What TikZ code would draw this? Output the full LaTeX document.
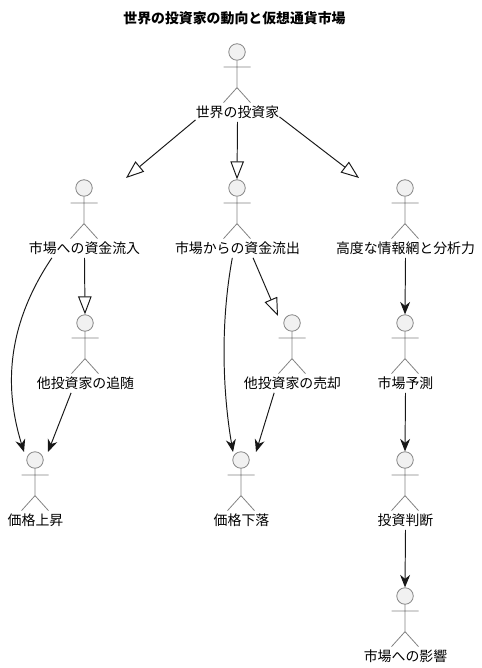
\documentclass[tikz,border=0pt]{standalone}
\usepackage{fontspec}
\setmainfont{Noto Sans CJK JP}
\usepackage{xcolor}
\usetikzlibrary{arrows.meta}
\definecolor{headgray}{RGB}{241,241,241}
\definecolor{stickgray}{RGB}{130,130,130}
\definecolor{linedark}{RGB}{24,24,24}

\newcommand{\stickman}[4]{%
  \node[headst] (#1head) at (#2,#3) {};
  \draw[stickst] (#1head.south) -- ++(0,27) ++(-13.5,15) -- ++(13.5,-15) -- ++(13.5,15)
    (#1head) ++(-13.5,15) -- ++(27,0);
  \path (#1head) ++(0.5,60.5) node[lbl] (#1) {#4};
}

\begin{document}
\begin{tikzpicture}[
    x=0.02cm, y=-0.02cm,
    headst/.style={circle, draw=stickgray, fill=headgray, line width=0.45pt, inner sep=0pt, minimum size=0.33cm},
    stickst/.style={draw=stickgray, line width=0.45pt},
    lbl/.style={inner sep=0pt, minimum height=0.36cm, font=\fontsize{7.9}{9}\selectfont},
    flow/.style={draw=linedark, line width=0.55pt, -{Stealth[length=0.25cm, width=0.2cm, inset=0.08cm]}},
    gen/.style={draw=linedark, line width=0.55pt, -{Triangle[open, length=0.36cm, width=0.27cm]}}
]
\useasboundingbox (0,0) rectangle (481,668);

\node[font=\fontsize{7.9}{9}\selectfont\bfseries] (title) at (234.5,18) {世界の投資家の動向と仮想通貨市場};

\stickman{world}{237}{52}{世界の投資家}
\stickman{inflow}{84}{188}{市場への資金流入}
\stickman{outflow}{237}{188}{市場からの資金流出}
\stickman{info}{405}{188}{高度な情報網と分析力}
\stickman{follow}{85}{323}{他投資家の追随}
\stickman{sell}{292}{323}{他投資家の売却}
\stickman{predict}{405}{323}{市場予測}
\stickman{rise}{35}{460}{価格上昇}
\stickman{fall}{241}{460}{価格下落}
\stickman{judge}{405}{460}{投資判断}
\stickman{impact}{405}{596}{市場への影響}

% free ends
\coordinate (inflowtip) at (126,178);
\coordinate (infotip) at (359,178);
\coordinate (sellend) at (278,316);
\coordinate (riseleft) at (24,452);
\coordinate (riseright) at (48,452);
\coordinate (fallleft) at (233,452);
\coordinate (fallright) at (256,452);

\draw[gen] (world.190) -- (inflowtip);
\draw[gen] (world.south) -- (outflowhead.north);
\draw[gen] (world.-6) -- (infotip);
\draw[gen] (inflow.south) -- (followhead.north);
\draw[gen] (outflow.-31) -- (sellend);

\draw[flow] (inflow.196) .. controls (0,335) and (8,400) .. (riseleft);
\draw[flow] (follow.213) -- (riseright);
\draw[flow] (outflow.241) .. controls (219,330) and (224,400) .. (fallleft);
\draw[flow] (sell.207) -- (fallright);
\draw[flow] (info.south) -- (predicthead.north);
\draw[flow] (predict.south) -- (judgehead.north);
\draw[flow] (judge.south) -- (impacthead.north);
\end{tikzpicture}
\end{document}
